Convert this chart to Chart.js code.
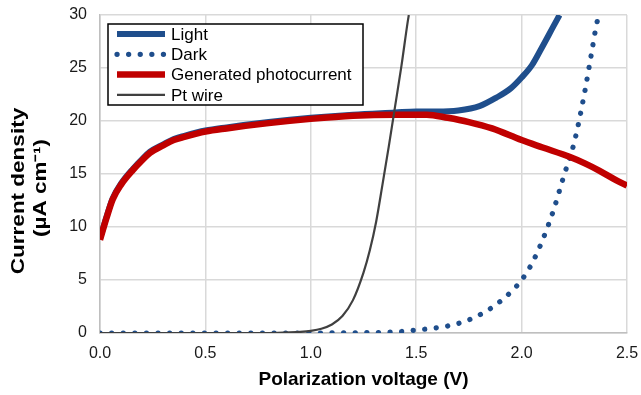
<!DOCTYPE html>
<html>
<head>
<meta charset="utf-8">
<script src="https://cdn.jsdelivr.net/npm/chart.js@4"></script>
<style>
  html, body { margin: 0; padding: 0; background: #fff; }
  #wrap { width: 641px; height: 395px; }
</style>
</head>
<body>
<div id="wrap"><canvas id="chart" width="641" height="395"></canvas></div>
<script>
// --- data ---
const photoV = [0, 0.03, 0.06, 0.1, 0.157, 0.2, 0.237, 0.3, 0.35, 0.4, 0.5, 0.6, 0.8, 1.0, 1.2, 1.4, 1.55, 1.65, 1.75, 1.86, 2.0, 2.1, 2.23, 2.3, 2.37, 2.45, 2.5];
const photoI = [8.8, 10.8, 12.6, 14.0, 15.4, 16.3, 17.0, 17.7, 18.2, 18.5, 19.0, 19.3, 19.8, 20.2, 20.5, 20.6, 20.6, 20.3, 19.9, 19.3, 18.2, 17.5, 16.6, 16.0, 15.3, 14.4, 13.9];

const lightV = [0, 0.03, 0.06, 0.1, 0.157, 0.2, 0.237, 0.3, 0.35, 0.4, 0.5, 0.6, 0.8, 1.0, 1.2, 1.4, 1.5, 1.6, 1.7, 1.8, 1.88, 1.95, 2.0, 2.05, 2.09, 2.15, 2.18];
const lightI = [8.9, 10.9, 12.7, 14.1, 15.5, 16.4, 17.1, 17.8, 18.3, 18.6, 19.1, 19.4, 19.9, 20.3, 20.6, 20.8, 20.9, 20.9, 21.0, 21.4, 22.2, 23.1, 24.1, 25.3, 26.7, 28.9, 30];

const darkV = [0, 0.5, 1.0, 1.2, 1.4, 1.5, 1.6, 1.7, 1.8, 1.9, 2.0, 2.05, 2.1, 2.15, 2.2, 2.25, 2.3, 2.33, 2.36, 2.37];
const darkI = [0, 0, 0, 0.02, 0.1, 0.28, 0.5, 0.9, 1.7, 3.0, 5.0, 6.6, 8.8, 11.5, 14.8, 18.0, 22.8, 26.2, 29.5, 30];

const ptV = [0, 0.8, 0.9, 0.95, 1.0, 1.05, 1.1, 1.15, 1.2, 1.25, 1.28, 1.31, 1.34, 1.37, 1.4, 1.43, 1.46, 1.465];
const ptI = [0, 0, 0.05, 0.1, 0.2, 0.4, 0.8, 1.6, 3.1, 5.7, 7.8, 10.5, 14.0, 17.6, 21.4, 25.2, 29.4, 30];

const xTicks = [0, 0.5, 1.0, 1.5, 2.0, 2.5];
const yTicks = [0, 5, 10, 15, 20, 25, 30];
const yTitle = ["Current density", "(\u00b5A cm\u207b\u00b9)"];

const pts = (xs, ys) => xs.map((x, i) => ({ x, y: ys[i] }));

const FONT = "'Liberation Sans', Arial, sans-serif";

// legend drawn as a boxed panel inside the plot, like the original
const boxLegend = {
  id: "boxLegend",
  afterDraw(chart) {
    const ctx = chart.ctx;
    const left = 108, top = 24, w = 255, h = 81;
    ctx.save();
    ctx.fillStyle = "#fff";
    ctx.fillRect(left, top, w, h);
    ctx.strokeStyle = "#000";
    ctx.lineWidth = 1.5;
    ctx.strokeRect(left, top, w, h);
    chart.data.datasets.forEach((ds, i) => {
      const y = top + 10 + i * 20.3;
      ctx.beginPath();
      ctx.strokeStyle = ds.borderColor;
      ctx.lineWidth = ds.borderWidth;
      ctx.lineCap = ds.borderCapStyle || "butt";
      ctx.setLineDash(ds.borderDash || []);
      ctx.moveTo(117, y);
      ctx.lineTo(165, y);
      ctx.stroke();
      ctx.setLineDash([]);
      ctx.fillStyle = "#000";
      ctx.font = "17px " + FONT;
      ctx.textBaseline = "middle";
      ctx.textAlign = "left";
      ctx.fillText(ds.label, 171, y + 1);
    });
    ctx.restore();
  }
};

// y title: rotated, a bit stretched along its length as in the source image
const yTitlePlugin = {
  id: "yTitle",
  afterDraw(chart) {
    const ctx = chart.ctx;
    ctx.save();
    ctx.fillStyle = "#000";
    ctx.font = "bold 18px " + FONT;
    ctx.textAlign = "center";
    ctx.textBaseline = "middle";
    [[19, 191], [41, 188]].forEach(([x, y], i) => {
      ctx.save();
      ctx.translate(x, y);
      ctx.rotate(-Math.PI / 2);
      ctx.scale(1.25, 1);
      ctx.fillText(yTitle[i], 0, 0);
      ctx.restore();
    });
    ctx.restore();
  }
};

new Chart(document.getElementById("chart"), {
  type: "line",
  data: {
    datasets: [
      {
        label: "Light",
        data: pts(lightV, lightI),
        borderColor: "#1f4e8c",
        borderWidth: 6,
        borderCapStyle: "butt",
        pointRadius: 0,
        cubicInterpolationMode: "monotone",
        order: 4,
      },
      {
        label: "Dark",
        data: pts(darkV, darkI),
        borderColor: "#1f4e8c",
        borderWidth: 5.2,
        borderDash: [0.1, 11.5],
        borderCapStyle: "round",
        pointRadius: 0,
        cubicInterpolationMode: "monotone",
        order: 3,
      },
      {
        label: "Generated photocurrent",
        data: pts(photoV, photoI),
        borderColor: "#c00000",
        borderWidth: 6.5,
        borderCapStyle: "butt",
        pointRadius: 0,
        cubicInterpolationMode: "monotone",
        order: 2,
      },
      {
        label: "Pt wire",
        data: pts(ptV, ptI),
        borderColor: "#404040",
        borderWidth: 2.2,
        pointRadius: 0,
        cubicInterpolationMode: "monotone",
        order: 1,
      },
    ],
  },
  options: {
    responsive: false,
    animation: false,
    layout: { padding: 0 },
    plugins: {
      legend: { display: false },
      tooltip: { enabled: false },
    },
    scales: {
      x: {
        type: "linear",
        min: 0,
        max: 2.5,
        afterBuildTicks: s => { s.ticks = xTicks.map(v => ({ value: v })); },
        afterFit: s => { s.height = 62; s.paddingLeft = 0; s.paddingRight = 14; },
        grid: { color: "#d9d9d9", lineWidth: 1.5, drawTicks: false },
        border: { color: "#bfbfbf", width: 1.5 },
        ticks: {
          padding: 11,
          color: "#1a1a1a",
          font: { family: FONT, size: 16 },
          callback: v => Number(v).toFixed(1),
          maxRotation: 0,
        },
        title: {
          display: true,
          text: "Polarization voltage (V)",
          color: "#000",
          font: { family: FONT, size: 19, weight: "bold" },
          padding: { top: 8 },
        },
      },
      y: {
        min: 0,
        max: 30,
        afterBuildTicks: s => { s.ticks = yTicks.map(v => ({ value: v })); },
        afterFit: s => { s.width = 100; s.paddingTop = 15; s.paddingBottom = 0; },
        grid: { color: "#d9d9d9", lineWidth: 1.5, drawTicks: false },
        border: { color: "#bfbfbf", width: 1.5 },
        ticks: {
          padding: 13,
          color: "#1a1a1a",
          font: { family: FONT, size: 16 },
        },
      },
    },
  },
  plugins: [boxLegend, yTitlePlugin],
});
</script>
</body>
</html>
